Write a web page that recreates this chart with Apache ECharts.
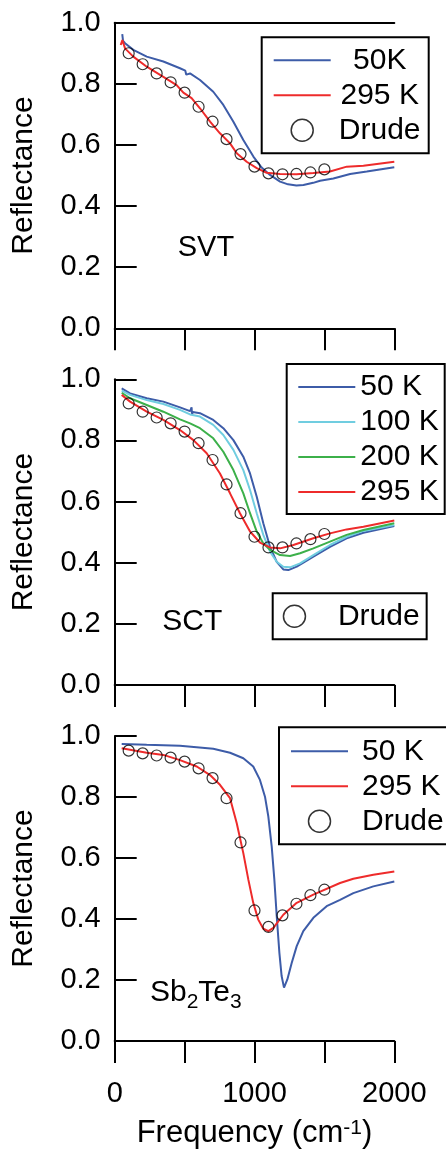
<!DOCTYPE html>
<html><head><meta charset="utf-8">
<script src="https://cdn.jsdelivr.net/npm/echarts@6.0.0/dist/echarts.min.js"></script>
<style>html,body{margin:0;padding:0;background:#fff}#c{width:446px;height:1150px}</style>
</head><body><div id="c"></div>
<script>
// ---- tick labels ----
const xLabelValues = [0, 1000, 2000];
const yTickLabels = ['0.0', '0.2', '0.4', '0.6', '0.8', '1.0'];
const panelLabels = ['SVT', 'SCT'];

// ---- Drude model points (shared frequencies) ----
const drudeF = [100, 200, 300, 400, 500, 600, 700, 800, 900, 1000, 1100, 1200, 1300, 1400, 1500];

// ---- SVT ----
const svtF50 = [54, 60, 74, 133, 229, 348, 467, 505, 512, 539, 610, 705, 777, 849, 920, 992, 1051, 1111, 1183, 1240, 1300, 1350, 1420, 1469, 1564, 1684, 1803, 2000];
const svtR50 = [0.963, 0.94, 0.933, 0.911, 0.889, 0.873, 0.851, 0.843, 0.830, 0.834, 0.8125, 0.774, 0.731, 0.676, 0.616, 0.562, 0.526, 0.502, 0.480, 0.471, 0.467, 0.469, 0.476, 0.483, 0.490, 0.505, 0.513, 0.527];
const svtF295 = [43, 55, 74, 133, 229, 348, 443, 491, 550, 610, 682, 753, 825, 873, 944, 1016, 1087, 1183, 1301, 1421, 1540, 1660, 1779, 2000];
const svtR295 = [0.927, 0.943, 0.916, 0.889, 0.856, 0.823, 0.796, 0.771, 0.753, 0.72, 0.676, 0.638, 0.605, 0.573, 0.545, 0.524, 0.509, 0.505, 0.504, 0.508, 0.513, 0.529, 0.532, 0.545];
const svtDrude = [0.900, 0.864, 0.834, 0.805, 0.771, 0.725, 0.676, 0.619, 0.570, 0.529, 0.507, 0.504, 0.505, 0.510, 0.520];

// ---- SCT ----
const sctF50 = [50, 110, 229, 348, 467, 539, 545, 550, 553, 558, 610, 705, 777, 849, 920, 968, 1016, 1063, 1111, 1159, 1206, 1242, 1302, 1421, 1540, 1659, 1779, 2000];
const sctR50 = [0.970, 0.954, 0.938, 0.927, 0.908, 0.896, 0.893, 0.908, 0.884, 0.893, 0.889, 0.867, 0.840, 0.801, 0.747, 0.692, 0.616, 0.529, 0.452, 0.403, 0.378, 0.376, 0.387, 0.420, 0.452, 0.480, 0.498, 0.520];
const sctF100 = [50, 110, 229, 348, 467, 539, 610, 705, 777, 849, 920, 968, 1016, 1063, 1111, 1159, 1206, 1254, 1326, 1421, 1540, 1659, 1779, 2000];
const sctR100 = [0.963, 0.949, 0.932, 0.919, 0.900, 0.885, 0.878, 0.851, 0.818, 0.769, 0.703, 0.638, 0.562, 0.491, 0.436, 0.403, 0.387, 0.385, 0.398, 0.425, 0.458, 0.485, 0.504, 0.523];
const sctF200 = [50, 110, 229, 348, 467, 539, 610, 705, 777, 849, 920, 968, 1016, 1063, 1111, 1183, 1254, 1326, 1421, 1540, 1659, 1779, 2000];
const sctR200 = [0.956, 0.938, 0.916, 0.894, 0.869, 0.856, 0.840, 0.807, 0.763, 0.703, 0.627, 0.562, 0.502, 0.463, 0.442, 0.425, 0.422, 0.431, 0.447, 0.469, 0.491, 0.507, 0.529];
const sctF295 = [50, 110, 229, 348, 467, 563, 658, 753, 825, 896, 968, 1039, 1111, 1183, 1278, 1421, 1540, 1659, 1779, 2000];
const sctR295 = [0.949, 0.927, 0.894, 0.867, 0.834, 0.801, 0.758, 0.692, 0.627, 0.562, 0.502, 0.466, 0.450, 0.447, 0.458, 0.480, 0.496, 0.509, 0.518, 0.538];
const sctDrude = [0.921, 0.894, 0.875, 0.856, 0.829, 0.791, 0.736, 0.656, 0.562, 0.485, 0.450, 0.450, 0.463, 0.477, 0.494];

// ---- Sb2Te3 ----
const sbtF50 = [50, 229, 467, 705, 825, 920, 991, 1039, 1075, 1099, 1123, 1142, 1159, 1178, 1194, 1211, 1235, 1266, 1302, 1349, 1421, 1516, 1612, 1707, 1850, 2000];
const sbtR50 = [0.974, 0.971, 0.968, 0.958, 0.945, 0.927, 0.900, 0.856, 0.801, 0.736, 0.638, 0.529, 0.409, 0.289, 0.213, 0.175, 0.202, 0.256, 0.311, 0.360, 0.404, 0.442, 0.463, 0.485, 0.507, 0.523];
const sbtF295 = [50, 229, 348, 467, 587, 682, 753, 825, 873, 920, 956, 991, 1027, 1063, 1099, 1135, 1206, 1302, 1421, 1612, 1707, 1850, 2000];
const sbtR295 = [0.960, 0.945, 0.938, 0.921, 0.900, 0.872, 0.840, 0.796, 0.714, 0.616, 0.529, 0.453, 0.398, 0.368, 0.360, 0.371, 0.414, 0.453, 0.480, 0.518, 0.532, 0.545, 0.556];
const sbtDrude = [0.952, 0.943, 0.936, 0.929, 0.916, 0.894, 0.862, 0.796, 0.651, 0.428, 0.374, 0.412, 0.450, 0.478, 0.496];

// ---- styling ----
const FONT = '"Liberation Sans", Arial, sans-serif';
const BLUE = '#3d5ca8', LBLUE = '#70cde0', GREEN = '#3cb04a', RED = '#ee2b2b';

const zip = (a, b) => a.map((v, i) => [v, b[i]]);
const grids = [
  { left: 114.7, top: 22.7, width: 279.6, height: 305.6 },
  { left: 114.7, top: 379.3, width: 279.6, height: 305.7 },
  { left: 114.7, top: 736, width: 279.6, height: 305.7 }
];
const axisLine = { show: true, lineStyle: { color: '#000', width: 2 } };

const xAxes = grids.map((g, i) => ({
  type: 'value', gridIndex: i, min: 0, max: 2000, interval: 500,
  axisLine: axisLine,
  axisTick: { show: true, inside: false, length: 22, lineStyle: { color: '#000', width: 2 } },
  axisLabel: {
    show: i === 2, margin: 38, fontSize: 29, fontFamily: FONT, color: '#000',
    formatter: v => xLabelValues.indexOf(v) >= 0 ? String(v) : ''
  },
  splitLine: { show: false },
  name: i === 2 ? '{a|Frequency (cm}{b|-1}{a|)}' : '',
  nameLocation: 'middle', nameGap: 77,
  nameTextStyle: {
    fontFamily: FONT, color: '#000',
    rich: {
      a: { fontSize: 31, lineHeight: 31, verticalAlign: 'top', fontFamily: FONT, color: '#000' },
      b: { fontSize: 21, lineHeight: 21, verticalAlign: 'top', fontFamily: FONT, color: '#000' }
    }
  }
}));
// top frame line of the first panel
xAxes.push({
  type: 'value', gridIndex: 0, position: 'top', min: 0, max: 2000,
  axisLine: axisLine, axisTick: { show: false }, axisLabel: { show: false }, splitLine: { show: false }
});

const yAxes = grids.map((g, i) => ({
  type: 'value', gridIndex: i, min: 0, max: 1, interval: 0.2,
  axisLine: axisLine,
  axisTick: { show: true, inside: true, length: 22, lineStyle: { color: '#000', width: 2 } },
  axisLabel: {
    margin: 14, fontSize: 29, fontFamily: FONT, color: '#000',
    formatter: v => yTickLabels[Math.round(v * 5)]
  },
  splitLine: { show: false },
  name: 'Reflectance', nameLocation: 'middle', nameGap: 76, nameRotate: 90,
  nameTextStyle: { fontSize: 30, fontFamily: FONT, color: '#000' }
}));

function lineSeries(name, f, r, color, gi) {
  return {
    type: 'line', name: name, xAxisIndex: gi, yAxisIndex: gi,
    data: zip(f, r), symbol: 'none', showSymbol: false,
    lineStyle: { color: color, width: 2 }, itemStyle: { color: color },
    silent: true, z: 3
  };
}
function drudeSeries(r, gi) {
  return {
    type: 'scatter', name: 'Drude', xAxisIndex: gi, yAxisIndex: gi,
    data: zip(drudeF, r), symbol: 'circle', symbolSize: 11,
    itemStyle: { color: 'rgba(0,0,0,0)', borderColor: '#000', borderWidth: 1.2 },
    silent: true, z: 5
  };
}

const series = [
  lineSeries('50K', svtF50, svtR50, BLUE, 0),
  lineSeries('295 K', svtF295, svtR295, RED, 0),
  drudeSeries(svtDrude, 0),
  lineSeries('50 K', sctF50, sctR50, BLUE, 1),
  lineSeries('100 K', sctF100, sctR100, LBLUE, 1),
  lineSeries('200 K', sctF200, sctR200, GREEN, 1),
  lineSeries('295 K', sctF295, sctR295, RED, 1),
  drudeSeries(sctDrude, 1),
  lineSeries('50 K', sbtF50, sbtR50, BLUE, 2),
  lineSeries('295 K', sbtF295, sbtR295, RED, 2),
  drudeSeries(sbtDrude, 2)
];

const drudeLegendItem = { name: 'Drude', itemStyle: { color: 'rgba(0,0,0,0)', borderColor: '#000', borderWidth: 1.5 } };
const lineItem = n => ({ name: n, itemStyle: { color: 'rgba(0,0,0,0)', borderColor: 'rgba(0,0,0,0)', borderWidth: 0, opacity: 0 } });
function legend(pos, data, padding, rich) {
  return Object.assign({
    orient: 'vertical', itemWidth: 57, itemHeight: 22, itemGap: 5,
    borderColor: '#000', borderWidth: 2, backgroundColor: '#fff',
    selectedMode: false, data: data, padding: padding,
    formatter: n => '{c|' + n + '}',
    textStyle: { fontSize: 30, fontFamily: FONT, color: '#000', lineHeight: 30,
      rich: { c: Object.assign({ fontSize: 30, lineHeight: 30, fontFamily: FONT, color: '#000' }, rich) } }
  }, pos);
}

const option = {
  animation: false,
  backgroundColor: '#fff',
  grid: grids,
  xAxis: xAxes,
  yAxis: yAxes,
  legend: [
    legend({ left: 261.7, top: 37.3 }, [lineItem('50K'), lineItem('295 K'), drudeLegendItem], [8, 5, 8, 11], { width: 88, align: 'center' }),
    legend({ left: 286.7, top: 364 }, [lineItem('50 K'), lineItem('100 K'), lineItem('200 K'), lineItem('295 K')], [8, 6, 7, 10.6], {}),
    legend({ left: 272.7, top: 593.3 }, [drudeLegendItem], [8, 7, 8, 10], { padding: [0, 0, 0, 10] }),
    legend({ left: 279, top: 727.3 }, [lineItem('50 K'), lineItem('295 K'), drudeLegendItem], [9, 30, 8, 11], { padding: [0, 0, 0, 9] })
  ],
  graphic: [
    { type: 'text', left: 177.7, top: 233.5, silent: true,
      style: { text: panelLabels[0], font: '29px ' + FONT, fill: '#000' } },
    { type: 'text', left: 162.3, top: 607, silent: true,
      style: { text: panelLabels[1], font: '30px ' + FONT, fill: '#000' } },
    { type: 'text', left: 150, top: 978, silent: true,
      style: { text: '{n|Sb}{s|2}{n|Te}{s|3}', fill: '#000',
        rich: {
          n: { fontSize: 30, lineHeight: 30, fontFamily: FONT, verticalAlign: 'top', fill: '#000' },
          s: { fontSize: 21, lineHeight: 21, fontFamily: FONT, verticalAlign: 'top', padding: [14, 0, 0, 0], fill: '#000' }
        } } }
  ],
  series: series
};
const chart = echarts.init(document.getElementById('c'), null, { renderer: 'canvas' });
chart.setOption(option);
</script></body></html>
